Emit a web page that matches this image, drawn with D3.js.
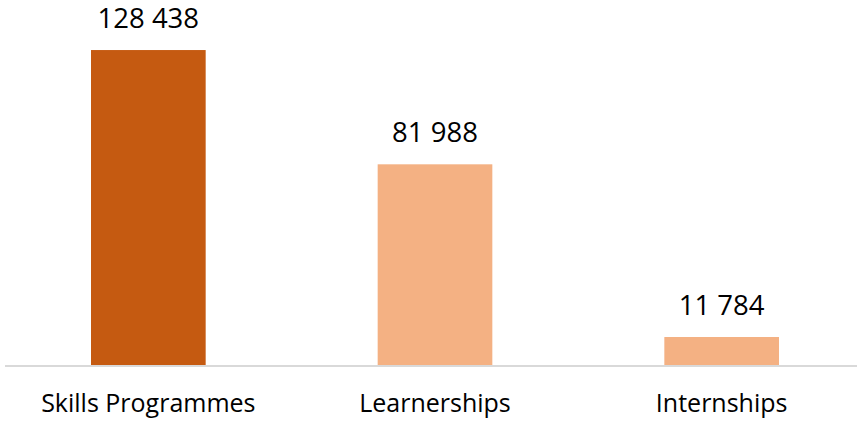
<!DOCTYPE html>
<html><head><meta charset="utf-8">
<script src="https://cdn.jsdelivr.net/npm/d3@7"></script>
<style>html,body{margin:0;padding:0;background:#fff;overflow:hidden}</style>
</head><body>
<svg id="chart" width="857" height="422"></svg>
<script>
const categories = ["Skills Programmes", "Learnerships", "Internships"];
const values = [128438, 81988, 11784];
const barColors = ["#C55A11", "#F4B183", "#F4B183"];
const yDomain = [0, 140000];

const svg = d3.select("#chart");
const font = "'Open Sans', sans-serif";
const x = d3.scaleBand().domain(categories).range([5, 865]).paddingInner(0.6).paddingOuter(0.3);
const y = d3.scaleLinear().domain(yDomain).range([366, 21.6]);

svg.selectAll("rect.bar").data(categories).join("rect")
  .attr("class", "bar")
  .attr("x", d => x(d))
  .attr("width", x.bandwidth())
  .attr("y", (d, i) => y(values[i]))
  .attr("height", (d, i) => y(0) - y(values[i]))
  .attr("fill", (d, i) => barColors[i]);

const fmt = v => d3.format(",")(v).replace(/,/g, " ");
svg.selectAll("text.val").data(categories).join("text")
  .attr("class", "val")
  .attr("x", d => x(d) + x.bandwidth() / 2)
  .attr("y", (d, i) => y(values[i]) - 22)
  .attr("text-anchor", "middle")
  .attr("font-family", font).attr("font-size", 27.5).attr("fill", "#000")
  .text((d, i) => fmt(values[i]));

const xAxis = d3.axisBottom(x).tickSize(0).tickPadding(0);
const g = svg.append("g").attr("transform", `translate(0,${y(0)})`).call(xAxis);
g.select(".domain").attr("stroke", "#D9D9D9").attr("stroke-width", 2).attr("d", "M5,0H865");
g.selectAll(".tick text").attr("font-family", font).attr("font-size", 25).attr("fill", "#000")
  .attr("dy", 0).attr("y", 46);
</script>
</body></html>
